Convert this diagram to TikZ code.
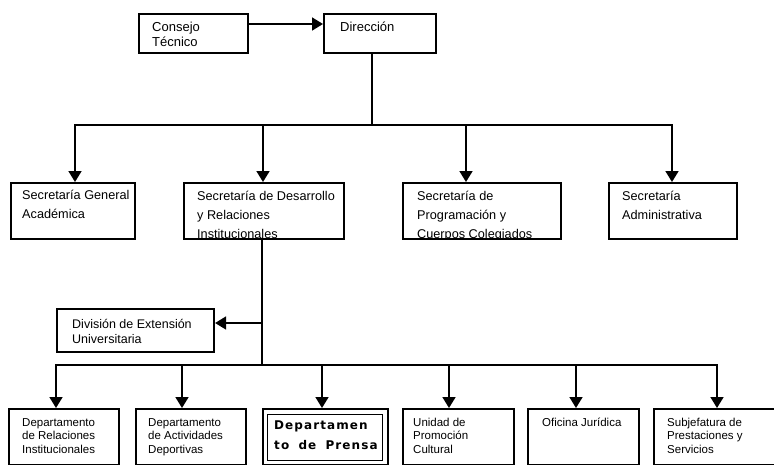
\documentclass[tikz,border=0pt]{standalone}
\usepackage{fontspec}
\setmainfont{Liberation Sans}
\newfontfamily\prensafont{DejaVu Sans}[LetterSpace=9]
\usetikzlibrary{arrows.meta,calc}
\begin{document}
\begin{tikzpicture}[x=1pt,y=-1pt,
  box/.style={draw, line width=2.1pt, inner sep=0pt, anchor=north west},
  conn/.style={line width=1.7pt, line cap=rect},
  arr/.style={line width=1.7pt, -{Triangle[length=11pt,width=13pt]}},
  lbl/.style={anchor=base west, inner sep=0pt, align=left},
  big/.style={font=\fontsize{12.7}{19}\selectfont},
  top/.style={font=\fontsize{13}{15}\selectfont},
  mid/.style={font=\fontsize{12.5}{15}\selectfont},
  small/.style={font=\fontsize{11.5}{13.5}\selectfont},
  prensa/.style={font=\prensafont\bfseries\fontsize{12}{20}\selectfont}
]
\useasboundingbox (0,0) rectangle (774,464);
\fill[white] (0,0) rectangle (774,464);
% text first (so borders sit on top); anchors are at the last line's baseline
\node[lbl,top] (tcons) at (152,46) {Consejo\\Técnico};
\node[lbl,top] (tdir) at (340,31) {Dirección};
\node[lbl,big] (tsgen) at (22,218) {Secretaría General\\Académica};
\node[lbl,big] (tsadm) at (622,219) {Secretaría\\Administrativa};
\begin{scope}
  \clip (184,183) rectangle (342,237);
  \node[lbl,big] (tsdes) at (197,238) {Secretaría de Desarrollo\\y Relaciones\\Institucionales};
\end{scope}
\begin{scope}
  \clip (403,183) rectangle (559,237);
  \node[lbl,big] (tsprog) at (417,238) {Secretaría de\\Programación y\\Cuerpos Colegiados};
\end{scope}
\node[lbl,mid] (tdiv) at (72,343) {División de Extensión\\Universitaria};
\node[lbl,small] (tb1) at (22,453) {Departamento\\de Relaciones\\Institucionales};
\node[lbl,small] (tb2) at (148,453) {Departamento\\de Actividades\\Deportivas};
\node[lbl,prensa] (tb3) at (274,449) {Departamen\\to\hspace{4pt} de\hspace{4pt} Prensa};
\node[lbl,small] (tb4) at (413,453) {Unidad de\\Promoción\\Cultural};
\node[lbl,small] (tb5) at (542,426) {Oficina Jurídica};
\node[lbl,small] (tb6) at (667,453) {Subjefatura de\\Prestaciones y\\Servicios};
% boxes
\node[box, minimum width=109pt, minimum height=39pt] (cons) at (138,13) {};
\node[box, minimum width=112pt, minimum height=39pt] (dir) at (323,13) {};
\node[box, minimum width=124pt, minimum height=56pt] (sgen) at (10,182) {};
\node[box, minimum width=160pt, minimum height=56pt] (sdes) at (183,182) {};
\node[box, minimum width=158pt, minimum height=56pt] (sprog) at (402,182) {};
\node[box, minimum width=128pt, minimum height=56pt] (sadm) at (608,182) {};
\node[box, minimum width=157pt, minimum height=43pt] (div) at (56,308) {};
\node[box, minimum width=110pt, minimum height=56pt] (b1) at (8,408) {};
\node[box, minimum width=110pt, minimum height=56pt] (b2) at (135,408) {};
\node[box, minimum width=125pt, minimum height=56pt] (b3) at (262,408) {};
\node[box, line width=1.4pt, minimum width=115pt, minimum height=46pt] (b3in) at (267,414) {};
\node[box, minimum width=111pt, minimum height=56pt] (b4) at (402,408) {};
\node[box, minimum width=111pt, minimum height=56pt] (b5) at (527,408) {};
\node[box, minimum width=130pt, minimum height=56pt] (b6) at (653,408) {};
% connectors: top
\coordinate (c1) at ($(cons.north east)+(0,11)$);
\draw[arr] (c1) -- (c1 -| dir.west);
\coordinate (j1) at (372,125);
\draw[conn] (j1 |- dir.south) -- (j1);
\coordinate (busL) at (75,125);
\coordinate (busR) at (672,125);
\coordinate (d2) at (263,125);
\coordinate (d3) at (466,125);
\draw[conn] (busL) -- (busR);
\draw[arr] (busL) -- (busL |- sgen.north);
\draw[arr] (d2) -- (d2 |- sdes.north);
\draw[arr] (d3) -- (d3 |- sprog.north);
\draw[arr] (busR) -- (busR |- sadm.north);
% connectors: lower
\coordinate (j2) at (262,365);
\draw[conn] (j2 |- sdes.south) -- (j2);
\coordinate (j3) at (262,323);
\draw[arr] (j3) -- (j3 -| div.east);
\coordinate (lL) at (56,365);
\coordinate (lR) at (717,365);
\coordinate (e2) at (182,365);
\coordinate (e3) at (322,365);
\coordinate (e4) at (449,365);
\coordinate (e5) at (576,365);
\draw[conn] (lL) -- (lR);
\draw[arr] (lL) -- (lL |- b1.north);
\draw[arr] (e2) -- (e2 |- b2.north);
\draw[arr] (e3) -- (e3 |- b3.north);
\draw[arr] (e4) -- (e4 |- b4.north);
\draw[arr] (e5) -- (e5 |- b5.north);
\draw[arr] (lR) -- (lR |- b6.north);
\end{tikzpicture}
\end{document}
